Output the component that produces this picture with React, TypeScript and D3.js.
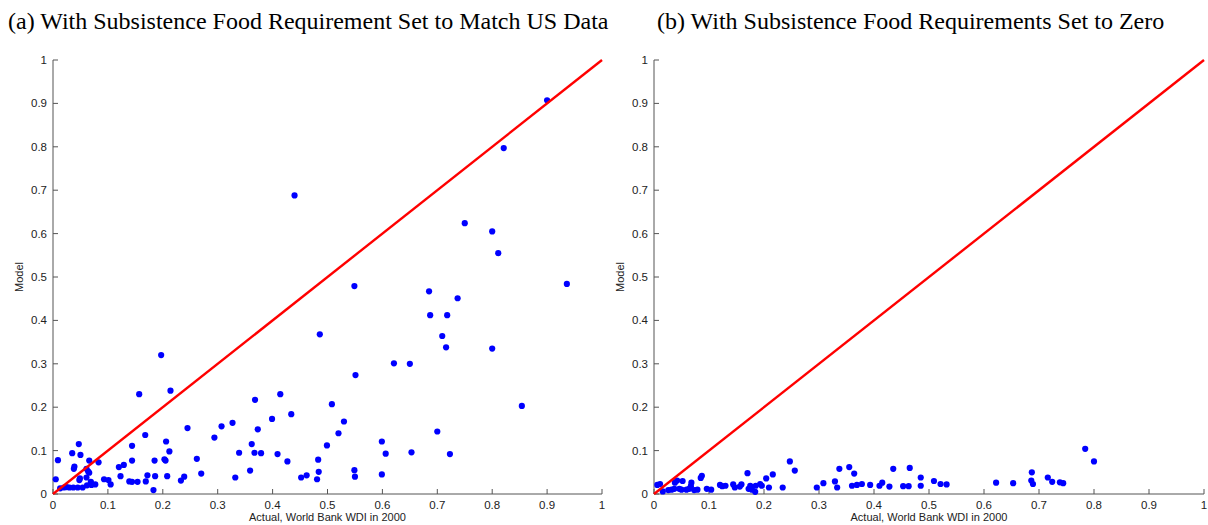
import React from "react";
import * as d3 from "d3";

// Panel (a): actual (x) vs model (y)
const aActual = [0.005,0.009,0.013,0.02,0.025,0.03,0.037,0.035,0.047,0.05,0.038,0.039,0.048,0.049,0.045,0.054,0.061,0.064,0.066,0.066,0.061,0.069,0.062,0.07,0.077,0.083,0.093,0.101,0.105,0.12,0.129,0.123,0.139,0.144,0.144,0.144,0.154,0.157,0.168,0.169,0.172,0.183,0.185,0.186,0.203,0.205,0.206,0.212,0.208,0.214,0.233,0.239,0.245,0.262,0.27,0.294,0.307,0.327,0.332,0.339,0.551,0.368,0.414,0.508,0.434,0.399,0.53,0.373,0.52,0.362,0.499,0.599,0.367,0.379,0.409,0.606,0.427,0.483,0.359,0.484,0.549,0.452,0.462,0.481,0.55,0.599,0.854,0.7,0.653,0.723,0.75,0.8,0.811,0.936,0.549,0.685,0.737,0.687,0.718,0.709,0.716,0.8,0.621,0.65,0.486,0.197,0.9,0.821,0.44];
const aModel = [0.034,0.078,0.013,0.015,0.016,0.015,0.015,0.094,0.115,0.09,0.058,0.063,0.032,0.036,0.015,0.015,0.058,0.052,0.049,0.077,0.038,0.028,0.02,0.021,0.022,0.073,0.034,0.032,0.022,0.062,0.067,0.041,0.029,0.028,0.077,0.111,0.028,0.23,0.136,0.029,0.043,0.009,0.077,0.041,0.08,0.077,0.121,0.098,0.041,0.238,0.031,0.04,0.152,0.081,0.047,0.13,0.156,0.164,0.038,0.095,0.274,0.217,0.23,0.207,0.184,0.173,0.167,0.149,0.14,0.115,0.112,0.121,0.095,0.094,0.092,0.093,0.075,0.079,0.054,0.051,0.055,0.038,0.043,0.034,0.04,0.045,0.203,0.144,0.096,0.092,0.624,0.605,0.555,0.484,0.479,0.467,0.451,0.412,0.412,0.364,0.338,0.335,0.301,0.3,0.368,0.32,0.907,0.797,0.688];

// Panel (b)
const bActual = [0.006,0.011,0.016,0.026,0.032,0.037,0.038,0.042,0.046,0.05,0.052,0.059,0.064,0.067,0.068,0.073,0.079,0.085,0.087,0.096,0.104,0.12,0.124,0.13,0.144,0.147,0.156,0.159,0.17,0.172,0.175,0.178,0.184,0.185,0.193,0.196,0.204,0.209,0.216,0.234,0.247,0.256,0.296,0.308,0.329,0.333,0.337,0.355,0.364,0.36,0.369,0.378,0.393,0.41,0.415,0.428,0.435,0.453,0.463,0.465,0.485,0.485,0.509,0.521,0.532,0.622,0.653,0.686,0.687,0.689,0.716,0.724,0.738,0.744,0.784,0.8];
const bModel = [0.021,0.023,0.006,0.009,0.01,0.012,0.026,0.031,0.012,0.01,0.03,0.01,0.012,0.018,0.026,0.009,0.01,0.037,0.042,0.012,0.01,0.021,0.018,0.019,0.022,0.015,0.017,0.022,0.048,0.012,0.019,0.01,0.005,0.019,0.023,0.019,0.036,0.015,0.045,0.015,0.075,0.054,0.015,0.025,0.029,0.015,0.058,0.062,0.047,0.019,0.021,0.023,0.021,0.019,0.026,0.017,0.058,0.018,0.018,0.06,0.038,0.019,0.03,0.023,0.022,0.026,0.025,0.031,0.05,0.023,0.038,0.028,0.027,0.025,0.104,0.075];

const ticks = [0, 0.1, 0.2, 0.3, 0.4, 0.5, 0.6, 0.7, 0.8, 0.9, 1];
const tickLabels = ["0", "0.1", "0.2", "0.3", "0.4", "0.5", "0.6", "0.7", "0.8", "0.9", "1"];
const titles = [
  "(a) With Subsistence Food Requirement Set to Match US Data",
  "(b) With Subsistence Food Requirements Set to Zero",
];
const xLabel = "Actual, World Bank WDI in 2000";
const yLabel = "Model";

const axisColor = "#555";
const sans = "'Liberation Sans', Arial, Helvetica, sans-serif";

function Panel({ x0, x1, titleX, title, xs, ys }: { x0: number; x1: number; titleX: number; title: string; xs: number[]; ys: number[] }) {
  const x = d3.scaleLinear().domain([0, 1]).range([x0, x1]);
  const y = d3.scaleLinear().domain([0, 1]).range([494, 60]);
  const line = d3.line<number>().x((d) => x(d)).y((d) => y(d));
  return (
    <g>
      <text x={titleX} y={29} fontFamily="'Liberation Serif', 'Times New Roman', serif" fontSize={24} fill="#000">
        {title}
      </text>
      <line x1={x0} x2={x1} y1={y(0)} y2={y(0)} stroke={axisColor} strokeWidth={1} />
      <line x1={x0} x2={x0} y1={y(0)} y2={y(1)} stroke={axisColor} strokeWidth={1} />
      {ticks.map((t, i) => (
        <g key={"xt" + i}>
          <line x1={x(t)} x2={x(t)} y1={y(0)} y2={y(0) - 5} stroke={axisColor} />
          <text x={x(t)} y={y(0) + 15} textAnchor="middle" fontFamily={sans} fontSize={11.5} fill="#222">
            {tickLabels[i]}
          </text>
        </g>
      ))}
      {ticks.map((t, i) => (
        <g key={"yt" + i}>
          <line x1={x0} x2={x0 + 5} y1={y(t)} y2={y(t)} stroke={axisColor} />
          <text x={x0 - 6} y={y(t) + 4} textAnchor="end" fontFamily={sans} fontSize={11.5} fill="#222">
            {tickLabels[i]}
          </text>
        </g>
      ))}
      <text x={(x0 + x1) / 2} y={521} textAnchor="middle" fontFamily={sans} fontSize={11} fill="#222">
        {xLabel}
      </text>
      <text
        transform={`translate(${x0 - 30},${(y(0) + y(1)) / 2}) rotate(-90)`}
        textAnchor="middle"
        fontFamily={sans}
        fontSize={11}
        fill="#222"
      >
        {yLabel}
      </text>
      {xs.map((v, i) => (
        <circle key={"p" + i} cx={x(v)} cy={y(ys[i])} r={3.1} fill="#0000ff" />
      ))}
      <path d={line([0, 1]) || ""} stroke="#ff0000" strokeWidth={2.4} fill="none" />
    </g>
  );
}

export default function App() {
  return (
    <svg width={1208} height={525} style={{ position: "absolute", left: 0, top: 0, background: "#fff" }}>
      <rect width={1208} height={525} fill="#fff" />
      <Panel x0={53} x1={602} titleX={8} title={titles[0]} xs={aActual} ys={aModel} />
      <Panel x0={654} x1={1204} titleX={657} title={titles[1]} xs={bActual} ys={bModel} />
    </svg>
  );
}
